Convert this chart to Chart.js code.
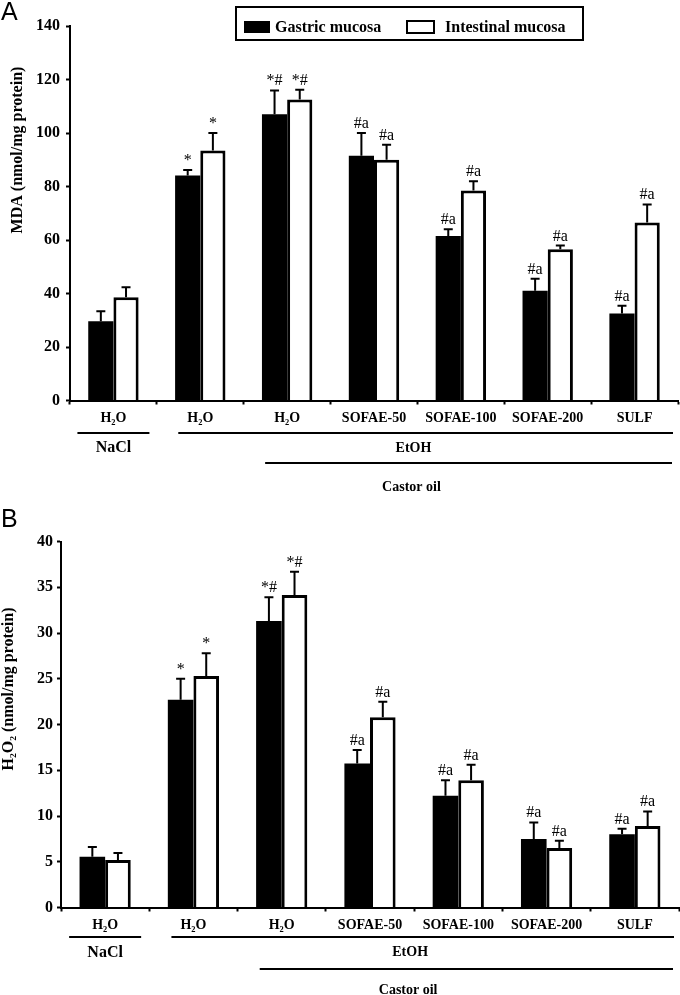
<!DOCTYPE html>
<html>
<head>
<meta charset="utf-8">
<script src="https://cdn.jsdelivr.net/npm/chart.js@4.4.1/dist/chart.umd.min.js"></script>
<style>
  body { margin: 0; background: #fff; }
  #wrap { position: relative; width: 680px; height: 995px; }
  canvas { position: absolute; left: 0; }
</style>
</head>
<body>
<div id="wrap">
  <canvas id="chartA" width="680" height="495" style="top:0"></canvas>
  <canvas id="chartB" width="680" height="500" style="top:495px"></canvas>
</div>
<script>
// groups on the x axis
const groups = ["H₂O", "H₂O", "H₂O", "SOFAE-50", "SOFAE-100", "SOFAE-200", "SULF"];
const seriesNames = ["Gastric mucosa", "Intestinal mucosa"];

// A: MDA (nmol/mg protein)
const mdaGastric = [29.6, 84.1, 107.0, 91.5, 61.5, 41.0, 32.5];
const mdaGastricErr = [3.8, 2.1, 8.9, 8.5, 2.5, 4.5, 2.9];
const mdaIntestinal = [38.6, 93.5, 112.5, 90.0, 78.5, 56.5, 66.5];
const mdaIntestinalErr = [3.7, 6.5, 3.7, 5.6, 3.5, 1.4, 6.8];

// B: H2O2 (nmol/mg protein)
const h2o2Gastric = [5.55, 22.7, 31.3, 15.75, 12.2, 7.5, 8.0];
const h2o2GastricErr = [1.05, 2.3, 2.6, 1.45, 1.7, 1.8, 0.6];
const h2o2Intestinal = [5.2, 25.3, 34.15, 20.8, 13.9, 6.5, 8.9];
const h2o2IntestinalErr = [0.75, 2.5, 2.55, 1.7, 1.7, 0.8, 1.6];

// significance marks above the bars
const marks = ["", "*", "*#", "#a", "#a", "#a", "#a"];

const serif = "'Liberation Serif', 'Times New Roman', serif";

function decorPlugin(s) {
  return {
    id: "decor",
    afterDatasetsDraw(chart) {
      const ctx = chart.ctx;
      const y = chart.scales.y;
      ctx.save();
      chart.data.datasets.forEach((ds, i) => {
        chart.getDatasetMeta(i).data.forEach((bar, j) => {
          const top = y.getPixelForValue(ds.data[j] + s.errors[i][j]);
          ctx.strokeStyle = "#000";
          ctx.lineWidth = 2;
          ctx.beginPath();
          ctx.moveTo(bar.x, bar.y);
          ctx.lineTo(bar.x, top);
          ctx.moveTo(bar.x - 4.5, top);
          ctx.lineTo(bar.x + 4.5, top);
          ctx.stroke();
          if (marks[j]) {
            ctx.fillStyle = "#000";
            ctx.font = "16px " + serif;
            ctx.textAlign = "center";
            ctx.textBaseline = "alphabetic";
            ctx.fillText(marks[j], bar.x, top - 5);
          }
        });
      });
      ctx.restore();
    },
    afterDraw(chart) {
      const ctx = chart.ctx;
      const x = chart.scales.x;
      const base = chart.scales.y.bottom;
      const catW = x.width / groups.length;
      const c = (k) => x.getPixelForValue(k);
      const mid = x.left + 4 * catW - 4;
      const o = s.offsets;
      ctx.save();
      ctx.strokeStyle = "#000";
      ctx.fillStyle = "#000";
      ctx.lineWidth = 2;
      ctx.beginPath();
      ctx.moveTo(c(0) - 36, base + o.line1);
      ctx.lineTo(c(0) + 36, base + o.line1);
      ctx.moveTo(c(1) - 22, base + o.line1);
      ctx.lineTo(x.right - 5, base + o.line1);
      ctx.moveTo(c(2) - 22, base + o.line2);
      ctx.lineTo(x.right - 6, base + o.line2);
      ctx.stroke();

      ctx.textAlign = "center";
      ctx.textBaseline = "middle";
      ctx.font = "bold 16px " + serif;
      ctx.fillText("NaCl", c(0), base + o.text1);
      ctx.font = "bold 14px " + serif;
      ctx.fillText("EtOH", mid, base + o.text1);
      ctx.fillText("Castor oil", mid - 2, base + o.text2);

      // y axis title
      ctx.save();
      ctx.translate(s.titleX, s.titleY);
      ctx.rotate(-Math.PI / 2);
      ctx.font = "bold 16px " + serif;
      ctx.fillText(s.title, 0, 0);
      ctx.restore();

      // panel letter
      ctx.textAlign = "left";
      ctx.textBaseline = "top";
      ctx.font = "25px 'Liberation Sans', Arial, sans-serif";
      ctx.fillText(s.letter, 1, s.letterY);

      if (s.legend) {
        ctx.lineWidth = 2;
        ctx.strokeRect(236, 7, 347, 33);
        ctx.fillRect(244, 21, 26, 12);
        ctx.strokeRect(407, 21, 27, 12);
        ctx.font = "bold 16px " + serif;
        ctx.textBaseline = "middle";
        ctx.fillText(seriesNames[0], 275, 27.5);
        ctx.fillText(seriesNames[1], 445, 27.5);
      }
      ctx.restore();
    }
  };
}

function makeChart(id, gastric, intestinal, yMax, yStep, s) {
  const config = {
    type: "bar",
    data: {
      labels: groups,
      datasets: [
        { label: seriesNames[0], data: gastric, backgroundColor: "#000", borderColor: "#000", borderWidth: 0 },
        { label: seriesNames[1], data: intestinal, backgroundColor: "#fff", borderColor: "#000", borderWidth: 3 }
      ]
    },
    options: {
      responsive: false,
      animation: false,
      categoryPercentage: 0.58,
      barPercentage: 1.0,
      layout: { padding: { left: 0, right: s.padRight, top: s.padTop, bottom: 0 } },
      plugins: { legend: { display: false }, tooltip: { enabled: false } },
      scales: {
        x: {
          grid: { display: true, drawOnChartArea: false, drawTicks: true, tickLength: 4, tickWidth: 2, tickColor: "#000", offset: true },
          border: { display: true, color: "#000", width: 2 },
          ticks: { color: "#000", font: { family: serif, weight: "bold", size: 14 }, padding: 5, maxRotation: 0, autoSkip: false },
          afterFit: (sc) => { sc.height = s.xHeight; }
        },
        y: {
          min: 0,
          max: yMax,
          grid: { display: true, drawOnChartArea: false, drawTicks: true, tickLength: 4, tickWidth: 2, tickColor: "#000" },
          border: { display: true, color: "#000", width: 2 },
          ticks: { stepSize: yStep, color: "#000", font: { family: serif, weight: "bold", size: 16 }, padding: s.yPad },
          afterFit: (sc) => { sc.width = s.yWidth; }
        }
      }
    },
    plugins: [decorPlugin(s)]
  };
  return new Chart(document.getElementById(id), config);
}

makeChart("chartA", mdaGastric, mdaIntestinal, 140, 20, {
  errors: [mdaGastricErr, mdaIntestinalErr],
  padTop: 26, padRight: 2, xHeight: 94.5, yWidth: 70, yPad: 6,
  offsets: { line1: 32.5, text1: 47.5, line2: 62.5, text2: 86.5 },
  title: "MDA (nmol/mg protein)", titleX: 18, titleY: 150,
  letter: "A", letterY: 1, legend: true
});

makeChart("chartB", h2o2Gastric, h2o2Intestinal, 40, 5, {
  errors: [h2o2GastricErr, h2o2IntestinalErr],
  padTop: 46.5, padRight: 1, xHeight: 87.5, yWidth: 61, yPad: 4,
  offsets: { line1: 29.5, text1: 45, line2: 61.5, text2: 82.5 },
  title: "H₂O₂ (nmol/mg protein)", titleX: 9, titleY: 194,
  letter: "B", letterY: 13, legend: false
});
</script>
</body>
</html>
